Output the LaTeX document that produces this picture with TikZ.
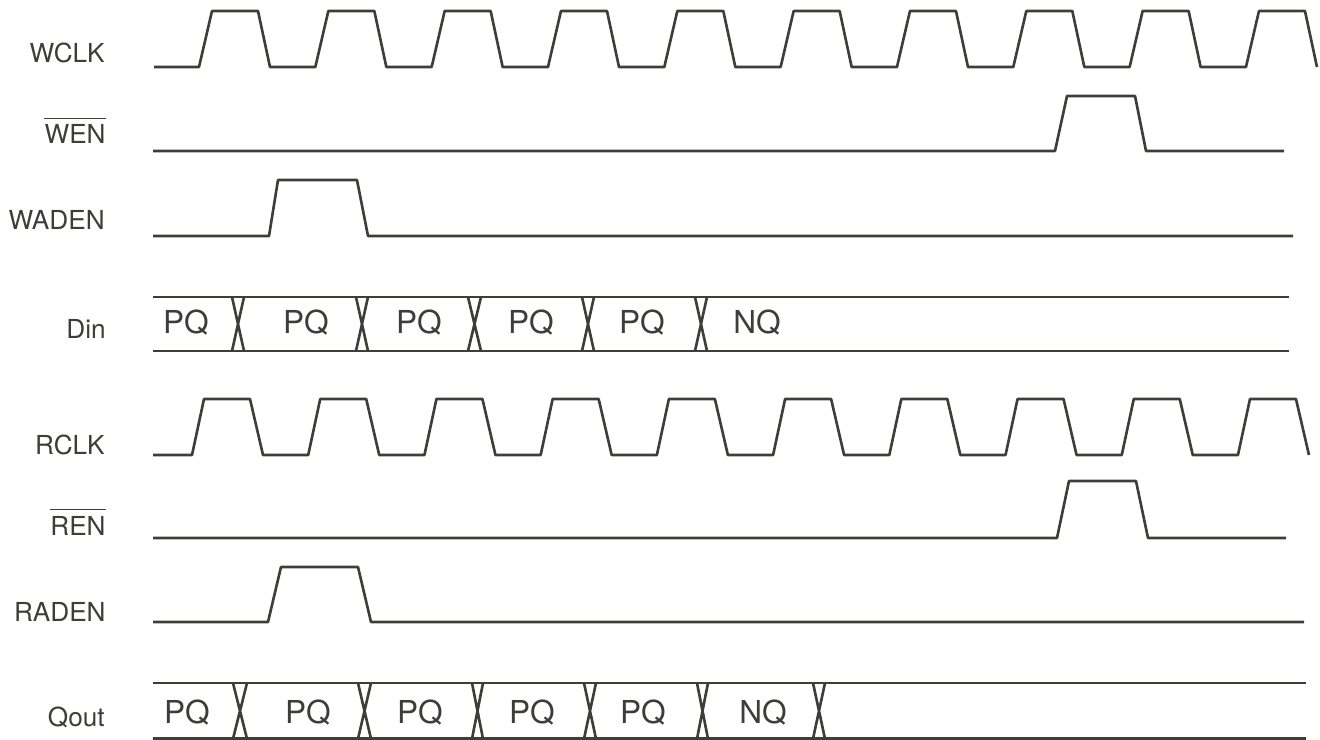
\documentclass[tikz,border=0pt]{standalone}
\usepackage{fontspec}
\setmainfont{TeX Gyre Heros}
\definecolor{wave}{RGB}{62,62,56}

\begin{document}
\begin{tikzpicture}[x=0.02cm,y=-0.02cm,
  sig/.style={wave,line width=1.5pt,line join=round},
  lbl/.style={wave,anchor=base east,inner sep=0pt,font=\fontsize{14.9}{18}\selectfont},
  dat/.style={wave,anchor=base,inner sep=0pt,font=\fontsize{18}{22}\selectfont},
  bar/.style={wave,line width=0.6pt}]
%\draw [help lines,black!20!white] (0,0) grid[step=20] (1320,740);
\useasboundingbox (0,0) rectangle (1320,740);

% signal names
\node[lbl] (wclk) at (105,63) {WCLK};
\node[lbl] (wen) at (106,144) {WEN};
\node[lbl] (waden) at (105,230) {WADEN};
\node[lbl] (din) at (106,338) {Din};
\node[lbl] (rclk) at (105,454) {RCLK};
\node[lbl] (ren) at (106,535) {REN};
\node[lbl] (raden) at (106,621) {RADEN};
\node[lbl] (qout) at (105,726) {Qout};

\draw[bar] ([yshift=3.4pt]wen.north west) -- ([yshift=3.4pt]wen.north east);
\draw[bar] ([yshift=3.4pt]ren.north west) -- ([yshift=3.4pt]ren.north east);

% write side
\draw[sig] (154,67) \foreach \k in {0,...,9} {
  -- ({199+116.33*\k},67) -- ({212+116.33*\k},11) -- ({258+116.33*\k},11) -- ({270+116.33*\k},67)};

\draw[sig] (153,151) -- (1055,151) -- (1067,96) -- (1135,96) -- (1146,151) -- (1284,151);

\draw[sig] (153,236) -- (269,236) -- (278,180) -- (357,180) -- (368,236) -- (1293,236);

\draw[sig] (153,297) -- (1289,297);
\draw[sig] (153,351) -- (1289,351);
\foreach \a/\b in {232/244, 356/368, 468/481, 582/594, 695/707}
  \draw[sig] (\a,297) -- (\b,351) (\b,297) -- (\a,351);
\foreach \x/\t [count=\i] in {186/PQ, 306/PQ, 419/PQ, 531/PQ, 642/PQ, 757/NQ}
  \node[dat] (din\i) at (\x,334) {\t};

% read side
\draw[sig] (153,455) \foreach \k in {0,...,9} {
  -- ({192+116.22*\k},455) -- ({204+116.22*\k},399) -- ({250+116.22*\k},399) -- ({263+116.22*\k},455)};

\draw[sig] (153,538) -- (1057,538) -- (1069,481) -- (1136,481) -- (1148,538) -- (1286,538);

\draw[sig] (153,622) -- (268,622) -- (281,567) -- (358,567) -- (371,622) -- (1304,622);

\draw[sig] (153,683) -- (1306,683);
\draw[sig] (153,738.8) -- (1306,738.8);
\foreach \a/\b in {233/247, 358/371, 472/483, 584/596, 697/708, 813/825}
  \draw[sig] (\a,683) -- (\b,738.8) (\b,683) -- (\a,738.8);
\foreach \x/\t [count=\i] in {187/PQ, 308/PQ, 420/PQ, 532/PQ, 643/PQ, 763/NQ}
  \node[dat] (qout\i) at (\x,723) {\t};

\end{tikzpicture}
\end{document}
